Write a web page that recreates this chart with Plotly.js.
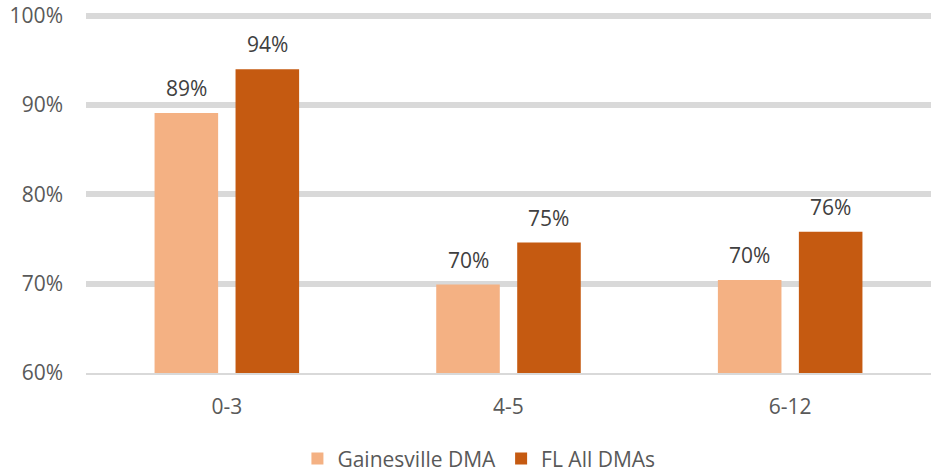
<!DOCTYPE html>
<html>
<head>
<meta charset="utf-8">
<script src="https://cdn.plot.ly/plotly-3.0.1.min.js"></script>
<style>html,body{margin:0;padding:0;background:#fff;}#chart{width:931px;height:472px;}</style>
</head>
<body>
<div id="chart"></div>
<script>
const categories = ["0-3", "4-5", "6-12"];
const gainesville = [89.1, 69.9, 70.4];
const flAll = [94.0, 74.6, 75.8];
const gainesvilleLabels = ["89%", "70%", "70%"];
const flAllLabels = ["94%", "75%", "76%"];
const yTickVals = [60, 70, 80, 90, 100];
const yTickText = ["60%", "70%", "80%", "90%", "100%"];

const FONT = "Open Sans, Noto Sans, sans-serif";
const bargap = 0.425;
const bargroupgap = 0.215;
const offset = (1 - bargap) / 4; // centre of each bar relative to category centre

const traces = [
  {type: "bar", name: "Gainesville DMA", x: categories, y: gainesville,
   marker: {color: "#F4B183"}, hoverinfo: "skip"},
  {type: "bar", name: "FL All DMAs", x: categories, y: flAll,
   marker: {color: "#C55A11"}, hoverinfo: "skip"}
];

const annotations = [];
categories.forEach((c, i) => {
  annotations.push({x: i - offset, y: gainesville[i], xref: "x", yref: "y", text: gainesvilleLabels[i],
    showarrow: false, yanchor: "middle", yshift: 25, font: {family: FONT, size: 21, color: "#404040"}});
  annotations.push({x: i + offset, y: flAll[i], xref: "x", yref: "y", text: flAllLabels[i],
    showarrow: false, yanchor: "middle", yshift: 25, font: {family: FONT, size: 21, color: "#404040"}});
});

const layout = {
  width: 931, height: 472,
  margin: {l: 86, r: 0, t: 12, b: 99, autoexpand: false},
  paper_bgcolor: "#fff", plot_bgcolor: "#fff",
  barmode: "group", bargap: bargap, bargroupgap: bargroupgap,
  font: {family: FONT, size: 21, color: "#595959"},
  xaxis: {type: "category", showgrid: false, showline: true, linecolor: "#D9D9D9", linewidth: 2,
    automargin: false,
    ticks: "", ticklabelstandoff: 14, tickfont: {family: FONT, size: 21, color: "#595959"}, zeroline: false},
  yaxis: {range: [60, 100.4], tickvals: yTickVals, ticktext: yTickText, showgrid: true,
    automargin: false,
    gridcolor: "#D9D9D9", gridwidth: 6, zeroline: false, showline: false, ticks: "",
    ticklabelstandoff: 22, tickfont: {family: FONT, size: 21, color: "#595959"}},
  showlegend: true,
  legend: {orientation: "h", x: 0.465, xanchor: "center", y: -0.238, yanchor: "middle",
    font: {family: FONT, size: 21, color: "#595959"}, traceorder: "normal", itemwidth: 30},
  annotations: annotations
};

Plotly.newPlot("chart", traces, layout, {displayModeBar: false, staticPlot: true});
</script>
</body>
</html>
